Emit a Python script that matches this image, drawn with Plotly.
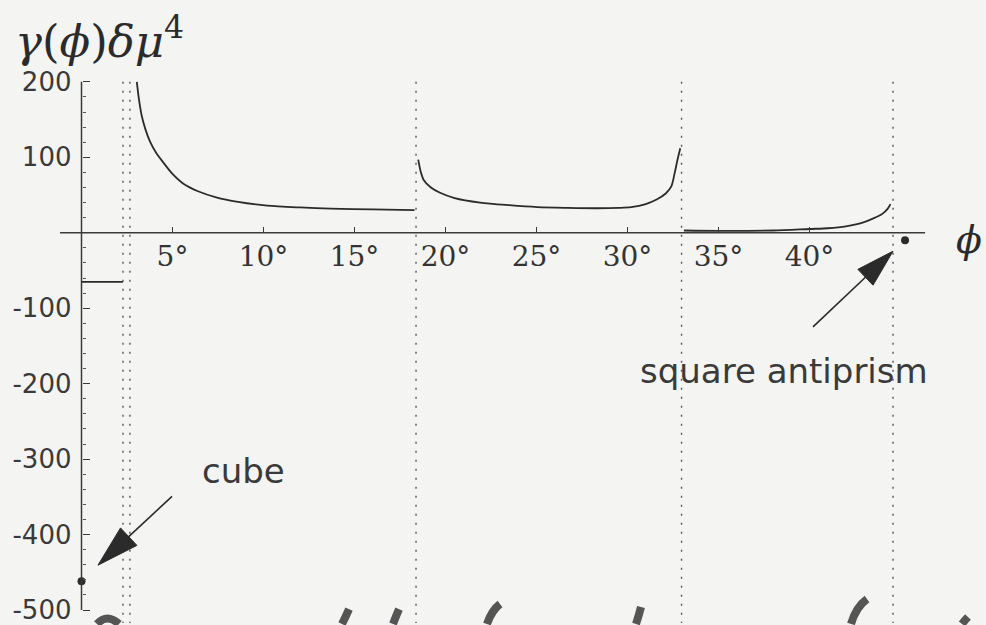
import math
import plotly.graph_objects as go

W, H = 986, 625
BG = "#f4f4f3"
INK = "#2b2b2b"

# ---- data -------------------------------------------------------------
# phi in degrees, gamma(phi)*delta*mu^4
seg0_phi = [0.0, 2.28]
seg0_val = [-65, -65]

seg1_phi = [3.04, 3.15, 3.3, 3.5, 3.76, 4.1, 4.5, 5.0, 5.6, 6.4, 7.4, 8.6, 10.2, 12.0, 13.7, 16.0, 18.3]
seg1_val = [200, 178, 156, 138, 121, 106, 93, 78, 65, 55, 47, 41, 36, 33.5, 32, 31, 30]

seg2_phi = [18.5, 18.65, 18.8, 19.2, 19.7, 20.5, 21.9, 23.5, 25.05, 26.7, 28.35, 29.5, 30.2, 31.0, 31.6, 32.1, 32.4, 32.6, 32.75, 32.9]
seg2_val = [97, 80, 70, 60, 53, 46, 40, 36.5, 34, 33, 32.5, 33, 34, 38, 44, 52, 61, 80, 97, 112]

seg3_phi = [33.1, 35.0, 38.0, 40.0, 41.0, 42.0, 43.0, 43.6, 44.0, 44.3, 44.45]
seg3_val = [3, 2.5, 3, 5, 6, 8.5, 14, 20, 25, 32, 38]

asymptotes = [2.28, 2.66, 18.38, 32.97, 44.59]

cube_pt = (0.0, -462)
antiprism_pt = (45.25, -10)

x_ticks = [5, 10, 15, 20, 25, 30, 35, 40]
x_labels = ["5°", "10°", "15°", "20°", "25°", "30°", "35°", "40°"]
y_ticks = [-500, -400, -300, -200, -100, 100, 200]
y_labels = ["-500", "-400", "-300", "-200", "-100", "100", "200"]
y_minor = [v for v in range(-500, 201, 20) if v % 100 != 0]

# ---- axis geometry (pixels) -------------------------------------------
X0_PX, PX_PER_DEG = 81.5, 18.2
Y0_PX, PX_PER_UNIT = 233.5, 0.757
x_range = [-X0_PX / PX_PER_DEG, (W - X0_PX) / PX_PER_DEG]
y_range = [(Y0_PX - H) / PX_PER_UNIT, Y0_PX / PX_PER_UNIT]


def paper(x, y):
    return x / W, 1 - y / H


fig = go.Figure()

line_style = dict(color=INK, width=1.8)
for px_, py_ in [(seg0_phi, seg0_val), (seg1_phi, seg1_val), (seg2_phi, seg2_val), (seg3_phi, seg3_val)]:
    fig.add_trace(go.Scatter(x=px_, y=py_, mode="lines", line=dict(shape="spline", smoothing=0.8, **line_style),
                             hoverinfo="skip"))

fig.add_trace(go.Scatter(x=[cube_pt[0], antiprism_pt[0]], y=[cube_pt[1], antiprism_pt[1]], mode="markers",
                         marker=dict(size=8, color=INK), hoverinfo="skip", cliponaxis=False))

shapes = []
# axis lines
shapes.append(dict(type="line", xref="x", yref="y", x0=-1.18, x1=46.35, y0=0, y1=0,
                   line=dict(color="#3a3a3a", width=1.5)))
shapes.append(dict(type="line", xref="x", yref="y", x0=0, x1=0, y0=-500, y1=200,
                   line=dict(color="#3a3a3a", width=1.5)))
# dotted asymptotes
for a in asymptotes:
    shapes.append(dict(type="line", xref="x", yref="y", x0=a, x1=a, y0=200, y1=y_range[0],
                       line=dict(color="#555555", width=1.4, dash="2px,7px")))


def arrow(tail, tip, head_len, head_w, color=INK):
    dx, dy = tip[0] - tail[0], tip[1] - tail[1]
    L = math.hypot(dx, dy)
    ux, uy = dx / L, dy / L
    bx, by = tip[0] - ux * head_len, tip[1] - uy * head_len
    nx, ny = -uy, ux
    p1 = (bx + nx * head_w / 2, by + ny * head_w / 2)
    p2 = (bx - nx * head_w / 2, by - ny * head_w / 2)
    t0 = paper(*tail)
    b0 = paper(bx + ux * 4, by + uy * 4)
    out = [dict(type="line", xref="paper", yref="paper", x0=t0[0], y0=t0[1], x1=b0[0], y1=b0[1],
                line=dict(color=color, width=1.6))]
    pts = [paper(*tip), paper(*p1), paper(*p2)]
    path = "M {:.5f},{:.5f} L {:.5f},{:.5f} L {:.5f},{:.5f} Z".format(*pts[0], *pts[1], *pts[2])
    out.append(dict(type="path", xref="paper", yref="paper", path=path, fillcolor=color,
                    line=dict(color=color, width=1)))
    return out


shapes += arrow((172, 498), (98, 567), 42, 24)
shapes += arrow((813, 328), (893, 252), 38, 22)

# pen strokes along the bottom edge
strokes = [
    ((97, 626), (107, 615), (119, 626)),
    ((349, 611), (346, 618), (342, 626)),
    ((399, 611), (396, 618), (393, 626)),
    ((500, 606), (492, 612), (487, 626)),
    ((641, 609), (639, 617), (636, 626)),
    ((867, 601), (856, 609), (851, 626)),
    ((968, 619), (965, 622), (962, 626)),
]
for s in strokes:
    a, c, b = (paper(*p) for p in s)
    shapes.append(dict(type="path", xref="paper", yref="paper",
                       path="M {:.5f},{:.5f} Q {:.5f},{:.5f} {:.5f},{:.5f}".format(*a, *c, *b),
                       line=dict(color="#555555", width=8)))

annotations = []


def label(text, x, y, size, family, color="#333333"):
    px, py = paper(x, y)
    annotations.append(dict(text=text, xref="paper", yref="paper", x=px, y=py, xanchor="center",
                            yanchor="middle", showarrow=False, font=dict(size=size, family=family, color=color)))


label("<i>γ</i>(<i>ϕ</i>)<i>δμ</i><sup>4</sup>", 99, 39, 45, "DejaVu Serif", "#2b2b2b")
label("<i>ϕ</i>", 969, 241, 38, "DejaVu Serif", "#2b2b2b")
label("cube", 243, 473, 34, "DejaVu Sans", "#3a3a3a")
label("square antiprism", 784, 372, 34, "DejaVu Sans", "#3a3a3a")

fig.update_layout(
    width=W, height=H, margin=dict(l=0, r=0, t=0, b=0),
    paper_bgcolor=BG, plot_bgcolor=BG, showlegend=False,
    shapes=shapes, annotations=annotations,
    xaxis=dict(range=x_range, domain=[0, 1], anchor="free", position=1 - Y0_PX / H,
               showgrid=False, zeroline=False, showline=False,
               ticks="inside", ticklen=6, tickwidth=1.3, tickcolor="#3a3a3a",
               tickmode="array", tickvals=x_ticks, ticktext=x_labels,
               ticklabelstandoff=4,
               tickfont=dict(family="DejaVu Serif", size=28, color="#333333")),
    yaxis=dict(range=y_range, domain=[0, 1], anchor="free", position=X0_PX / W,
               showgrid=False, zeroline=False, showline=False,
               ticks="inside", ticklen=7, tickwidth=1.3, tickcolor="#3a3a3a",
               tickmode="array", tickvals=y_ticks, ticktext=y_labels,
               ticklabelstandoff=10, ticklabeloverflow="allow",
               tickfont=dict(family="DejaVu Sans", size=26, color="#3a3a3a"),
               minor=dict(tickmode="array", tickvals=y_minor, ticks="inside", ticklen=3,
                          tickwidth=1, tickcolor="#555555")),
)

fig.write_html("out.html")
